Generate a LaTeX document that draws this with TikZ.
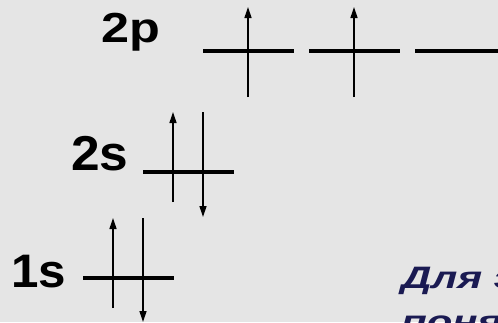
\documentclass[tikz,border=0pt]{standalone}
\usepackage{fontspec}
\setmainfont{Liberation Sans}
\usetikzlibrary{arrows.meta}
\definecolor{bgcol}{RGB}{229,229,229}
\definecolor{navy}{RGB}{26,26,82}
\tikzset{
  level/.style={line width=4pt},
  spin/.style={line width=1.3pt,-{Triangle[length=11pt,width=7pt]}},
  lbl/.style={anchor=base west,inner sep=0pt,font=\bfseries},
  note/.style={anchor=base west,inner sep=0pt,xscale=1.35,text=navy,font=\bfseries\itshape\fontsize{31}{31}\selectfont}
}
\begin{document}
\begin{tikzpicture}[x=1pt,y=-1pt]
\clip (0,0) rectangle (498,322);
\fill[bgcol] (0,0) rectangle (498,322);
% labels
\node[lbl,xscale=1.2] (l2p) at (101,42) {\fontsize{42}{42}\selectfont 2p};
\node[lbl,xscale=1.05] (l2s) at (71,170) {\fontsize{49}{49}\selectfont 2s};
\node[lbl,xscale=1.05] (l1s) at (11,287) {\fontsize{47}{47}\selectfont 1s};
% 2p levels
\coordinate (pa1) at (203,51); \coordinate (pa2) at (294,51);
\coordinate (pb1) at (309,51); \coordinate (pb2) at (400,51);
\coordinate (pc1) at (415,51); \coordinate (pc2) at (506,51);
\draw[level] (pa1) -- (pa2);
\draw[level] (pb1) -- (pb2);
\draw[level] (pc1) -- (pc2);
\coordinate (ua0) at (248,97); \coordinate (ua1) at (248,7);
\coordinate (ub0) at (354,97); \coordinate (ub1) at (354,7);
\draw[spin] (ua0) -- (ua1);
\draw[spin] (ub0) -- (ub1);
% 2s level
\coordinate (s21) at (143,172); \coordinate (s22) at (234,172);
\draw[level] (s21) -- (s22);
\coordinate (su0) at (173,202); \coordinate (su1) at (173,112);
\coordinate (sd0) at (203,112); \coordinate (sd1) at (203,217);
\draw[spin] (su0) -- (su1);
\draw[spin] (sd0) -- (sd1);
% 1s level
\coordinate (s11) at (83,278); \coordinate (s12) at (174,278);
\draw[level] (s11) -- (s12);
\coordinate (tu0) at (113,308); \coordinate (tu1) at (113,218);
\coordinate (td0) at (143,218); \coordinate (td1) at (143,322);
\draw[spin] (tu0) -- (tu1);
\draw[spin] (td0) -- (td1);
% note text (cut off by the frame, as in the reference)
\node[note] (n1) at (401,288) {Для этого};
\node[note] (n2) at (401,332) {понятия};
\end{tikzpicture}
\end{document}
